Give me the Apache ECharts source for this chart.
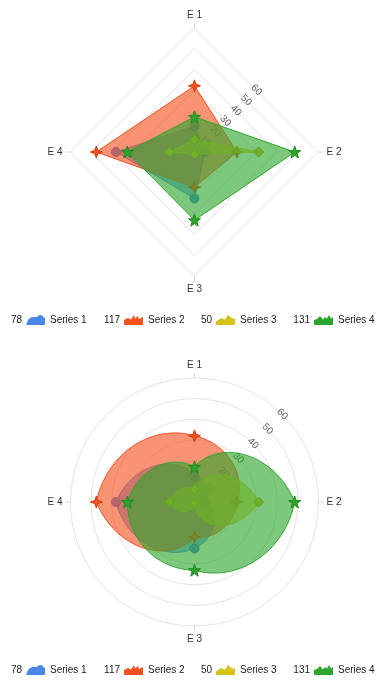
<!DOCTYPE html>
<html><head><meta charset="utf-8">
<style>html,body{margin:0;padding:0;background:#fff}#c{width:384px;height:684px}</style>
<script src="https://cdn.jsdelivr.net/npm/echarts@6/dist/echarts.min.js"></script>
</head><body><div id="c"></div>
<script>
// ---- data ----
const categories = ['E 1', 'E 2', 'E 3', 'E 4'];
const seriesNames = ['Series 1', 'Series 2', 'Series 3', 'Series 4'];
const series1 = [12.5, 5, 22.5, 38];
const series2 = [32, 20.5, 17, 47.5];
const series3 = [6, 31, 1, 12];
const series4 = [17, 48.5, 33, 32.5];
const radiusTicks = [10, 20, 30, 40, 50, 60];

// ---- style ----
const allValues = [series1, series2, series3, series4];
const colors = ['#4a86e8', '#f4511e', '#d4c319', '#2ea62e'];
const borders = ['#3a6cc0', '#d03c10', '#a89a10', '#1f8a1f'];
const FONT = '"Liberation Sans", Arial, sans-serif';
const axisMax = radiusTicks[radiusTicks.length - 1];
const R = 124;
const CX = 194.5, TOPY = 152, BOTY = 502;
const star5 = 'path://M0,-10L2.35,-3.24L9.51,-3.09L3.8,1.24L5.88,8.09L0,4L-5.88,8.09L-3.8,1.24L-9.51,-3.09L-2.35,-3.24Z';
const star4 = 'path://M0,-10L2.6,-2.6L10,0L2.6,2.6L0,10L-2.6,2.6L-10,0L-2.6,-2.6Z';
const symbols = ['circle', star4, 'diamond', star5];
const symbolSizes = [9, 12, 10, 12];
const legendIcons = [
  'path://M0,10L2,5Q4,2,7,2L11,2Q12,0,14.5,0Q17,0,17.5,2.5L19,2.5L19,10Z',
  'path://M0,10L0,5L4,3L7,4.5L10,0L11,3.5L14,1L15,4L19,2L19,10Z',
  'path://M0,10L0,6.5L5,3L9,4.5L12,0L16,3.5L19,3.5L19,10Z',
  'path://M0,10L0,5L3,4L6,1L9,4.5L11,2L13,3.5L15,0L17,3.5L19,2L19,10Z'
];
const legendIconX = [26, 124, 216, 314];
const legendRows = [320, 670];

// radar indicator order (counter-clockwise placement): E1, E4, E3, E2
const order = [0, 3, 2, 1];

function radarCfg(cy, shape) {
  return {
    center: [CX, cy], radius: R, startAngle: 90, shape: shape, splitNumber: radiusTicks.length,
    indicator: order.map(i => ({ name: categories[i], min: 0, max: axisMax })),
    nameGap: 8,
    axisName: { color: '#333', fontSize: 10, fontFamily: FONT },
    splitLine: { lineStyle: { color: '#e2e2e2', width: 1 } },
    splitArea: { show: false },
    axisLine: { show: false }, axisTick: { show: false }, axisLabel: { show: false }
  };
}

const polar = [
  { center: [CX, TOPY], radius: R },
  { center: [CX, TOPY], radius: R / Math.SQRT2 },
  { center: [CX, BOTY], radius: R },
  { center: [CX, BOTY], radius: R }
];
function tickAngle(idx) {
  return { polarIndex: idx, type: 'value', min: 0, max: 360, interval: 90, startAngle: 90, clockwise: true,
    axisLine: { show: false }, axisLabel: { show: false }, splitLine: { show: false },
    axisTick: { show: true, length: 5, lineStyle: { color: '#d8d8d8' } } };
}
function hiddenAngle(idx) {
  return { polarIndex: idx, type: 'value', min: 0, max: 360, startAngle: 45, show: false };
}
function labelRadius(idx) {
  return { polarIndex: idx, type: 'value', min: 0, max: axisMax, interval: 10, z: 0,
    axisLine: { show: false }, axisTick: { show: false }, splitLine: { show: false },
    axisLabel: { rotate: -45, margin: 0, align: 'center', verticalAlign: 'middle', color: '#666', fontSize: 10, fontFamily: FONT,
      formatter: v => (radiusTicks.indexOf(v) >= 0 ? String(v) : '') } };
}
function hiddenRadius(idx) {
  return { polarIndex: idx, type: 'value', min: 0, max: axisMax, show: false };
}

const series = [];
allValues.forEach((vals, s) => {
  series.push({
    type: 'radar', radarIndex: 0, name: seriesNames[s], z: 3 + s,
    symbol: symbols[s], symbolSize: symbolSizes[s],
    itemStyle: { color: colors[s], borderColor: borders[s], borderWidth: 1 },
    lineStyle: { color: colors[s], width: 1 },
    areaStyle: { color: colors[s], opacity: 0.62 },
    data: [{ name: seriesNames[s], value: order.map(i => vals[i]) }]
  });
});
allValues.forEach((vals, s) => {
  series.push({
    type: 'custom', coordinateSystem: 'polar', polarIndex: 2, name: seriesNames[s], z: 3 + s,
    data: vals.map((v, i) => [v, i * 90]),
    encode: { radius: 0, angle: 1 },
    itemStyle: { color: colors[s] },
    renderItem: function (params, api) {
      if (params.dataIndex !== 0) return null;
      const pts = [];
      const n = vals.length, steps = 60;
      for (let i = 0; i < n; i++) {
        const r0 = vals[i], r1 = vals[(i + 1) % n];
        for (let k = 0; k < steps; k++) {
          const t = k / steps;
          pts.push(api.coord([r0 + (r1 - r0) * t, (i + t) * 360 / n]));
        }
      }
      return { type: 'polygon', shape: { points: pts },
        style: { fill: colors[s], opacity: 1, fillOpacity: 0.62, stroke: colors[s], lineWidth: 1 },
        styleEmphasis: false };
    }
  });
  series.push({
    type: 'scatter', coordinateSystem: 'polar', polarIndex: 2, name: seriesNames[s], z: 3 + s,
    symbol: symbols[s], symbolSize: symbolSizes[s],
    itemStyle: { color: colors[s], borderColor: borders[s], borderWidth: 1, opacity: 1 },
    data: vals.map((v, i) => [v, i * 90])
  });
});

const legends = [];
const graphics = [];
legendRows.forEach(y => {
  seriesNames.forEach((nm, s) => {
    legends.push({
      left: legendIconX[s], top: y - 5, padding: 0, itemWidth: 19, itemHeight: 10, itemGap: 0,
      icon: legendIcons[s],
      data: [{ name: nm, itemStyle: { color: colors[s], borderWidth: 0 } }],
      textStyle: { fontSize: 10, color: '#222', fontFamily: FONT, padding: [0, 0, 0, 0] }
    });
    const total = allValues[s].reduce((a, b) => a + b, 0);
    graphics.push({
      type: 'text', x: legendIconX[s] - 4, y: y + 0.5,
      style: { text: String(Math.round(total)), textAlign: 'right', textVerticalAlign: 'middle',
        fontSize: 10, fill: '#222', fontFamily: FONT }
    });
  });
});

const chart = echarts.init(document.getElementById('c'));
chart.setOption({
  animation: false,
  backgroundColor: '#fff',
  radar: [radarCfg(TOPY, 'polygon'), radarCfg(BOTY, 'circle')],
  polar: polar,
  angleAxis: [tickAngle(0), hiddenAngle(1), tickAngle(2), hiddenAngle(3)],
  radiusAxis: [hiddenRadius(0), labelRadius(1), hiddenRadius(2), labelRadius(3)],
  legend: legends,
  graphic: graphics,
  series: series
});
</script></body></html>
